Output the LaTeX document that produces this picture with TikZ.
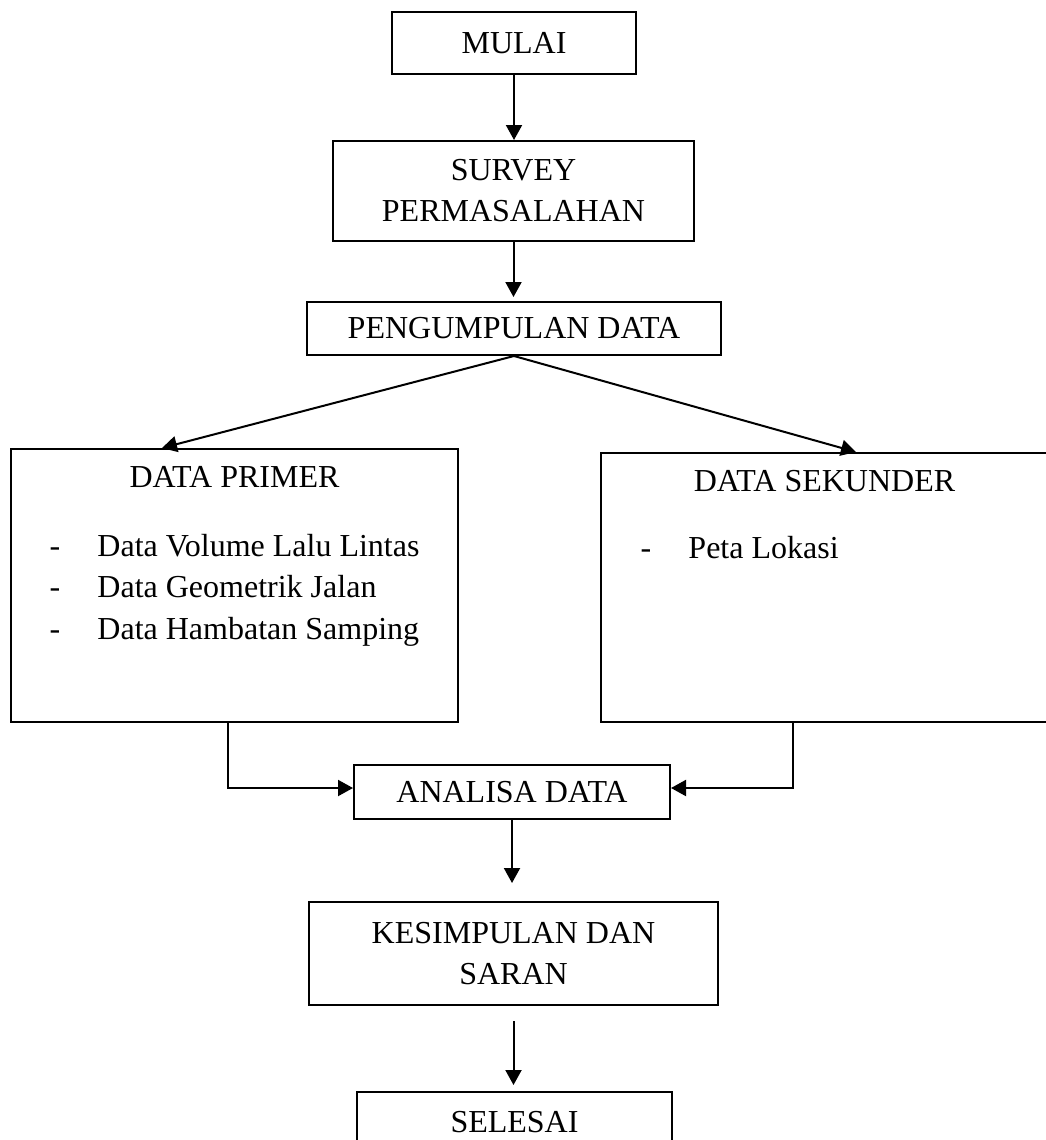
\documentclass[tikz,border=0pt]{standalone}
\usepackage{fontspec}
\setmainfont{Liberation Serif}
\usetikzlibrary{arrows.meta}

\newcommand\butir{\makebox[24pt][l]{-}}

\begin{document}
\begin{tikzpicture}[x=0.5pt, y=-0.5pt, line width=1pt, >={Triangle[length=7.5pt,width=8pt]},
    box/.style={draw, rectangle, align=center, font=\fontsize{16pt}{20.5pt}\selectfont},
    title/.style={anchor=base, font=\fontsize{16pt}{20.5pt}\selectfont},
    item/.style={anchor=base west, inner sep=0pt, font=\fontsize{16pt}{20.5pt}\selectfont}]
    \useasboundingbox (0,0) rectangle (1045,1140);

    \node (Mulai) [box, minimum width=122pt, minimum height=31pt] at (514,43) {MULAI};
    \node (Survey) [box, minimum width=180.5pt, minimum height=50pt] at (513.5,191) {SURVEY\\PERMASALAHAN};
    \node (Pengumpulan) [box, minimum width=207pt, minimum height=26.5pt] at (514,328.5) {PENGUMPULAN DATA};
    \node (DataPrimer) [box, minimum width=223.5pt, minimum height=136.5pt] at (234.5,585.5) {};
    \node (DataSekunder) [box, minimum width=223.5pt, minimum height=134.5pt] at (824.5,587.5) {};
    \node (Analisa) [box, minimum width=158pt, minimum height=27pt] at (512,792) {ANALISA DATA};
    \node (Kesimpulan) [box, minimum width=204.5pt, minimum height=51.5pt] at (513.5,953.5) {KESIMPULAN DAN\\SARAN};
    \node (Selesai) [box, minimum width=157.5pt, minimum height=30pt] at (514.5,1122) {SELESAI};

    % isi kotak data
    \node (PrimerTitle) [title] at ([yshift=-19.5pt]DataPrimer.north) {DATA PRIMER};
    \node (PrimerA) [item] at ([xshift=19.25pt, yshift=-54pt]DataPrimer.north west) {\butir Data Volume Lalu Lintas};
    \node (PrimerB) [item] at ([xshift=19.25pt, yshift=-74.75pt]DataPrimer.north west) {\butir Data Geometrik Jalan};
    \node (PrimerC) [item] at ([xshift=19.25pt, yshift=-95.5pt]DataPrimer.north west) {\butir Data Hambatan Samping};
    \node (SekunderTitle) [title] at ([yshift=-19.5pt]DataSekunder.north) {DATA SEKUNDER};
    \node (SekunderA) [item] at ([xshift=19.75pt, yshift=-53pt]DataSekunder.north west) {\butir Peta Lokasi};

    \draw[->] (Mulai.south) -- (Mulai.south |- Survey.north);
    \draw[->, shorten >=2pt] (Survey.south) -- (Survey.south |- Pengumpulan.north);
    \draw[->] (Pengumpulan.south) -- ([xshift=76pt]DataPrimer.north west);
    \draw[->] (Pengumpulan.south) -- ([xshift=128pt]DataSekunder.north west);
    \draw[->] ([xshift=109pt]DataPrimer.south west) |- ([yshift=2pt]Analisa.west);
    \draw[->] ([xshift=96.5pt]DataSekunder.south west) |- ([yshift=2pt]Analisa.east);
    \draw[->, shorten >=9pt] (Analisa.south) -- (Analisa.south |- Kesimpulan.north);
    \draw[->, shorten <=7.5pt, shorten >=3pt] (Kesimpulan.south) -- (Kesimpulan.south |- Selesai.north);
\end{tikzpicture}
\end{document}
